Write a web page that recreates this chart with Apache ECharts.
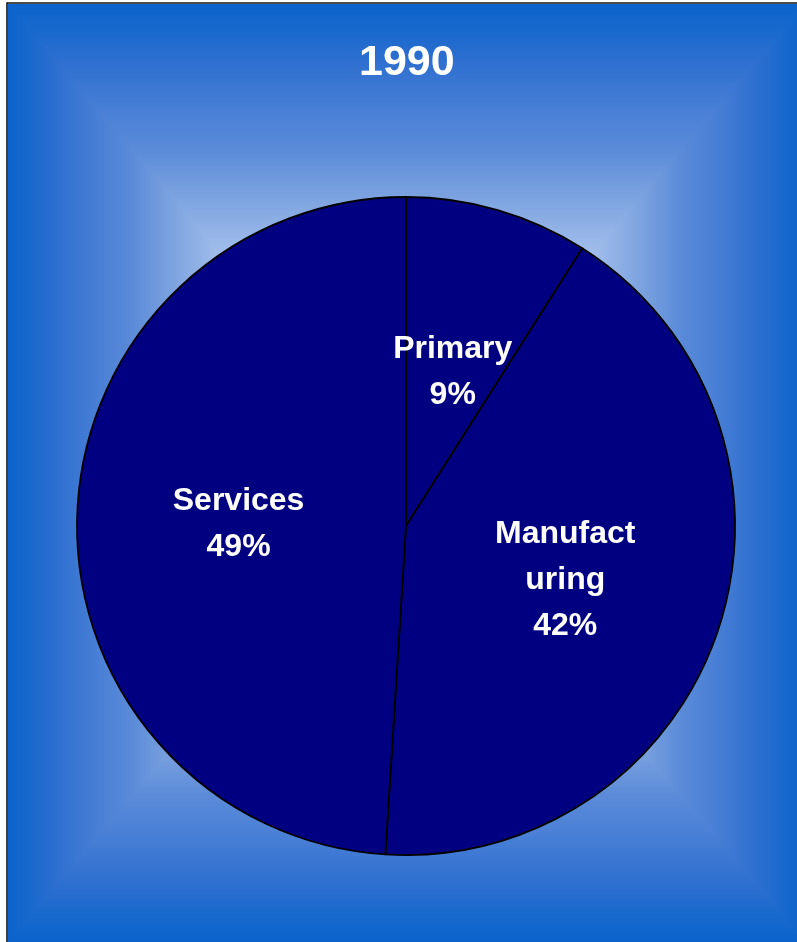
<!DOCTYPE html>
<html>
<head>
<meta charset="utf-8">
<title>1990</title>
<script src="https://cdn.jsdelivr.net/npm/echarts@6/dist/echarts.min.js"></script>
<style>
  html, body { margin: 0; padding: 0; background: #ffffff; }
  #chart { width: 797px; height: 942px; }
</style>
</head>
<body>
<div id="chart"></div>
<script>
// Employment share by sector, 1990
const chartTitle = '1990';
const sectors = ['Primary', 'Manufacturing', 'Services'];
const shares = [9, 42, 49];

// Rectangular "from centre" background: edge colour -> centre colour
const bgStops = [
  { offset: 0.00, color: '#0b63cb' },
  { offset: 0.06, color: '#1a69cd' },
  { offset: 0.13, color: '#3070d0' },
  { offset: 0.23, color: '#4a80d6' },
  { offset: 0.31, color: '#5a8ad8' },
  { offset: 0.40, color: '#78a0de' },
  { offset: 0.48, color: '#92b2e6' },
  { offset: 0.60, color: '#b4cbf0' },
  { offset: 1.00, color: '#e8f0fb' }
];

// frame of the chart area
const fx0 = 8, fy0 = 4, fx1 = 805, fy1 = 942;
const fcx = (fx0 + fx1) / 2, fcy = (fy0 + fy1) / 2;

function mirrored(stops) {
  // edge -> centre -> edge
  const out = [];
  stops.forEach(s => out.push({ offset: s.offset / 2, color: s.color }));
  for (let i = stops.length - 2; i >= 0; i--) {
    out.push({ offset: 1 - stops[i].offset / 2, color: stops[i].color });
  }
  return out;
}

function wrapName(name, n) {
  const parts = [];
  for (let i = 0; i < name.length; i += n) parts.push(name.slice(i, i + n));
  return parts.join('\n');
}

// small vertical nudges of the inside labels, px
const labelNudge = [7, 2, 3];

const chart = echarts.init(document.getElementById('chart'), null, { renderer: 'canvas' });

const labelFont = {
  color: '#ffffff',
  fontFamily: 'Liberation Sans, Arial, sans-serif',
  fontWeight: 'bold',
  fontSize: 32,
  lineHeight: 46
};

const option = {
  backgroundColor: '#ffffff',
  animation: false,
  graphic: [
    {
      type: 'rect', z: -10, silent: true,
      shape: { x: fx0, y: fy0, width: fx1 - fx0, height: fy1 - fy0 },
      style: {
        fill: { type: 'linear', x: fx0, y: 0, x2: fx1, y2: 0, global: true, colorStops: mirrored(bgStops) }
      }
    },
    {
      type: 'polygon', z: -9, silent: true,
      shape: { points: [[fx0, fy0], [fx1, fy0], [fcx, fcy]] },
      style: {
        fill: { type: 'linear', x: 0, y: fy0, x2: 0, y2: fcy, global: true, colorStops: bgStops }
      }
    },
    {
      type: 'polygon', z: -9, silent: true,
      shape: { points: [[fx0, fy1], [fx1, fy1], [fcx, fcy]] },
      style: {
        fill: { type: 'linear', x: 0, y: fy1, x2: 0, y2: fcy, global: true, colorStops: bgStops }
      }
    },
    {
      type: 'rect', z: 10, silent: true,
      shape: { x: 7, y: 3, width: 900, height: 1000 },
      style: { fill: 'none', stroke: '#111111', lineWidth: 1.6 }
    }
  ],
  title: {
    text: chartTitle,
    left: 354,
    top: 37,
    textStyle: {
      color: '#ffffff',
      fontFamily: 'Liberation Sans, Arial, sans-serif',
      fontWeight: 'bold',
      fontSize: 43
    }
  },
  series: [
    {
      type: 'pie',
      center: [406, 526],
      radius: 329,
      startAngle: 90,
      clockwise: true,
      avoidLabelOverlap: false,
      itemStyle: { color: '#000080', borderColor: '#000000', borderWidth: 1.8 },
      emphasis: { disabled: true },
      label: Object.assign({
        show: true,
        position: 'inside',
        align: 'center',
        formatter: p => wrapName(p.name, 8) + '\n' + p.value + '%'
      }, labelFont),
      labelLayout: p => ({ dy: labelNudge[p.dataIndex] }),
      labelLine: { show: false },
      data: sectors.map((s, i) => ({ name: s, value: shares[i] }))
    }
  ]
};

chart.setOption(option);
</script>
</body>
</html>
